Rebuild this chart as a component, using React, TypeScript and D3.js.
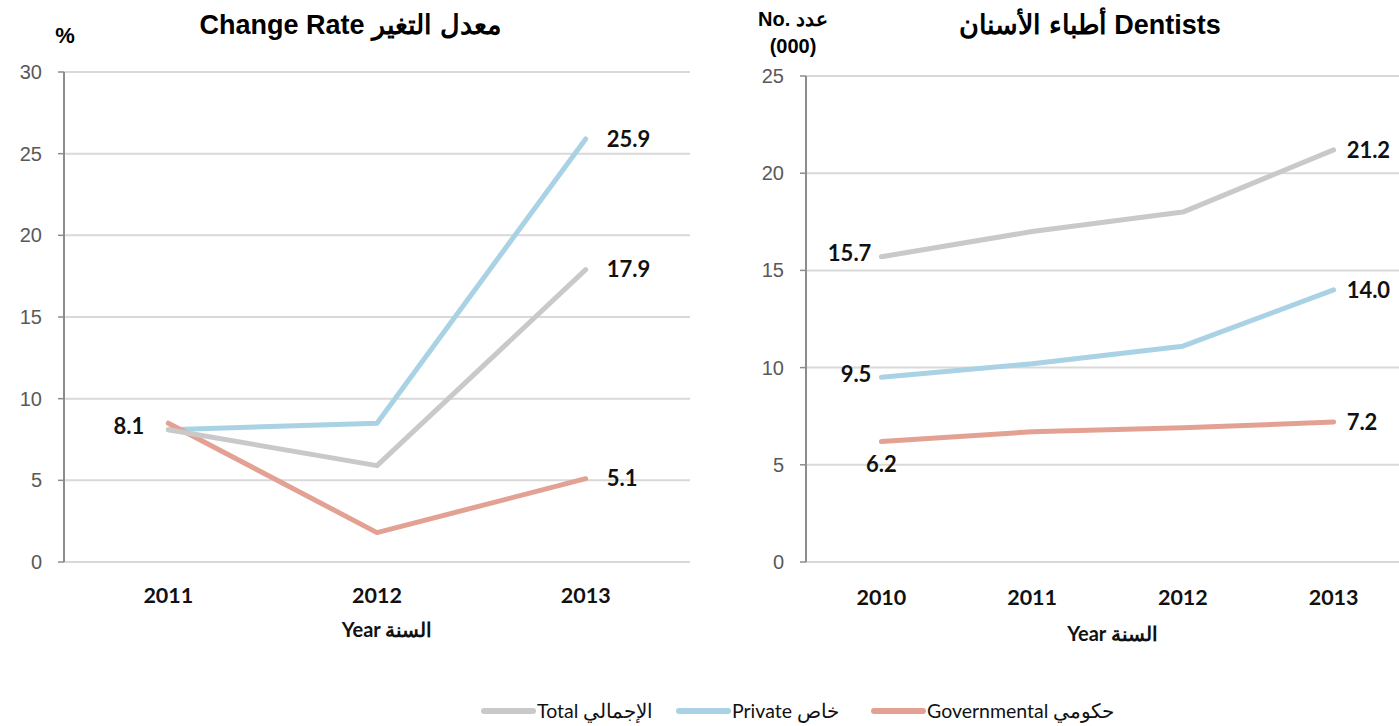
import React from "react";
import * as d3 from "d3";

// change rate panel (%)
const rateYears = ["2011", "2012", "2013"];
const rateTotal = [8.1, 5.9, 17.9];
const ratePrivate = [8.1, 8.5, 25.9];
const rateGov = [8.5, 1.8, 5.1];
const rateTicks = [0, 5, 10, 15, 20, 25, 30];

// dentists panel (000)
const dentYears = ["2010", "2011", "2012", "2013"];
const dentTotal = [15.7, 17.0, 18.0, 21.2];
const dentPrivate = [9.5, 10.2, 11.1, 14.0];
const dentGov = [6.2, 6.7, 6.9, 7.2];
const dentTicks = [0, 5, 10, 15, 20, 25];

const seriesNames = ["Total الإجمالي", "Private خاص", "Governmental حكومي"];
const colors = { total: "#c9c9c9", priv: "#a9d2e5", gov: "#e3a193" };

const numFont = "Lato, 'Open Sans', sans-serif";
const narrowFont = "'Liberation Sans Narrow', 'Liberation Sans', Arial, sans-serif";
const titleFont = "'Liberation Sans', Arial, sans-serif";

type Label = { i: number; pos: "left" | "right" | "below" };
type Series = { values: number[]; color: string; labels: Label[] };

function Panel(props: {
  years: string[];
  series: Series[];
  ticks: number[];
  x0: number;
  x1: number;
  y0: number;
  y1: number;
  tickY: number;
  yearY: number;
  gapL: number;
  gapR: number;
}) {
  const { years, series, ticks, x0, x1, y0, y1, tickY, yearY, gapL, gapR } = props;
  const x = d3.scaleBand<string>().domain(years).range([x0, x1]);
  const y = d3
    .scaleLinear()
    .domain([0, d3.max(ticks) as number])
    .range([y1, y0]);
  const cx = (d: string) => (x(d) as number) + x.bandwidth() / 2;
  const line = d3
    .line<number>()
    .x((_, i) => cx(years[i]))
    .y((v) => y(v));

  return (
    <g>
      {ticks.map((t) => (
        <g key={t}>
          <line x1={x0} x2={x1} y1={y(t)} y2={y(t)} stroke="#d9d9d9" strokeWidth={2} />
          <line x1={x0 - 6} x2={x0} y1={y(t)} y2={y(t)} stroke="#8c8c8c" strokeWidth={1.5} />
          <text
            x={x0 - 22}
            y={y(t)}
            dy="0.35em"
            textAnchor="end"
            fontFamily={narrowFont}
            fontSize={20}
            fill="#595959"
          >
            {t}
          </text>
        </g>
      ))}
      <line x1={x0} x2={x0} y1={y0} y2={y1} stroke="#8c8c8c" strokeWidth={2} />
      {series.map((s, k) => (
        <path
          key={k}
          d={line(s.values) as string}
          fill="none"
          stroke={s.color}
          strokeWidth={5}
          strokeLinecap="round"
          strokeLinejoin="round"
        />
      ))}
      {series.map((s, k) =>
        s.labels.map((l) => {
          const px = cx(years[l.i]);
          const py = y(s.values[l.i]);
          const txt = s.values[l.i].toFixed(1);
          let tx = px, ty = py, anchor = "middle";
          if (l.pos === "right") { tx = px + gapR; anchor = "start"; }
          if (l.pos === "left") { tx = px - gapL; anchor = "end"; ty = py - 3; }
          if (l.pos === "below") { ty = py + 23; }
          return (
            <text
              key={k + "-" + l.i}
              x={tx}
              y={ty}
              dy="0.35em"
              textAnchor={anchor}
              fontFamily={numFont}
              fontWeight={700}
              fontSize={22}
              fill="#111"
            >
              {txt}
            </text>
          );
        })
      )}
      {years.map((d) => (
        <text
          key={d}
          x={cx(d)}
          y={tickY}
          dy="0.35em"
          textAnchor="middle"
          fontFamily={numFont}
          fontWeight={700}
          fontSize={21.5}
          fill="#111"
        >
          {d}
        </text>
      ))}
      <text
        x={(x0 + Math.min(x1, 1399)) / 2 + 10}
        y={yearY}
        dy="0.35em"
        textAnchor="middle"
        fontFamily={numFont}
        fontWeight={700}
        fontSize={20}
        fill="#111"
      >
        Year السنة
      </text>
    </g>
  );
}

export default function App() {
  const legendColors = [colors.total, colors.priv, colors.gov];
  const legendX = [481, 676, 871];
  return (
    <svg
      width={1399}
      height={726}
      style={{ position: "absolute", left: 0, top: 0, background: "#fff" }}
    >
      {/* left panel titles */}
      <text x={350} y={25} dy="0.35em" textAnchor="middle" fontFamily={titleFont} fontWeight={700} fontSize={27} fill="#000">
        Change Rate معدل التغير
      </text>
      <text x={65} y={35} dy="0.35em" textAnchor="middle" fontFamily={titleFont} fontWeight={700} fontSize={22} fill="#000">
        %
      </text>
      <Panel
        years={rateYears}
        ticks={rateTicks}
        series={[
          { values: ratePrivate, color: colors.priv, labels: [{ i: 2, pos: "right" }] },
          { values: rateGov, color: colors.gov, labels: [{ i: 2, pos: "right" }] },
          { values: rateTotal, color: colors.total, labels: [{ i: 0, pos: "left" }, { i: 2, pos: "right" }] },
        ]}
        x0={64}
        x1={690}
        y0={72}
        y1={562}
        tickY={595}
        yearY={630}
        gapL={24}
        gapR={21}
      />

      {/* right panel titles */}
      <text x={1090} y={25} dy="0.35em" textAnchor="middle" fontFamily={titleFont} fontWeight={700} fontSize={27} fill="#000">
        أطباء الأسنان Dentists
      </text>
      <text x={793} y={19} dy="0.35em" textAnchor="middle" fontFamily={titleFont} fontWeight={700} fontSize={20} fill="#000">
        No. عدد
      </text>
      <text x={793} y={46} dy="0.35em" textAnchor="middle" fontFamily={titleFont} fontWeight={700} fontSize={20} fill="#000">
        (000)
      </text>
      <Panel
        years={dentYears}
        ticks={dentTicks}
        series={[
          { values: dentPrivate, color: colors.priv, labels: [{ i: 0, pos: "left" }, { i: 3, pos: "right" }] },
          { values: dentGov, color: colors.gov, labels: [{ i: 0, pos: "below" }, { i: 3, pos: "right" }] },
          { values: dentTotal, color: colors.total, labels: [{ i: 0, pos: "left" }, { i: 3, pos: "right" }] },
        ]}
        x0={806}
        x1={1409}
        y0={76}
        y1={562}
        tickY={597}
        yearY={634}
        gapL={10}
        gapR={13}
      />

      {/* legend */}
      {seriesNames.map((n, i) => (
        <g key={n}>
          <line
            x1={legendX[i] + 3}
            x2={legendX[i] + 52}
            y1={711}
            y2={711}
            stroke={legendColors[i]}
            strokeWidth={6}
            strokeLinecap="round"
          />
          <text x={legendX[i] + 56} y={711} dy="0.35em" fontFamily={numFont} fontSize={19.5} fill="#111">
            {n}
          </text>
        </g>
      ))}
    </svg>
  );
}
